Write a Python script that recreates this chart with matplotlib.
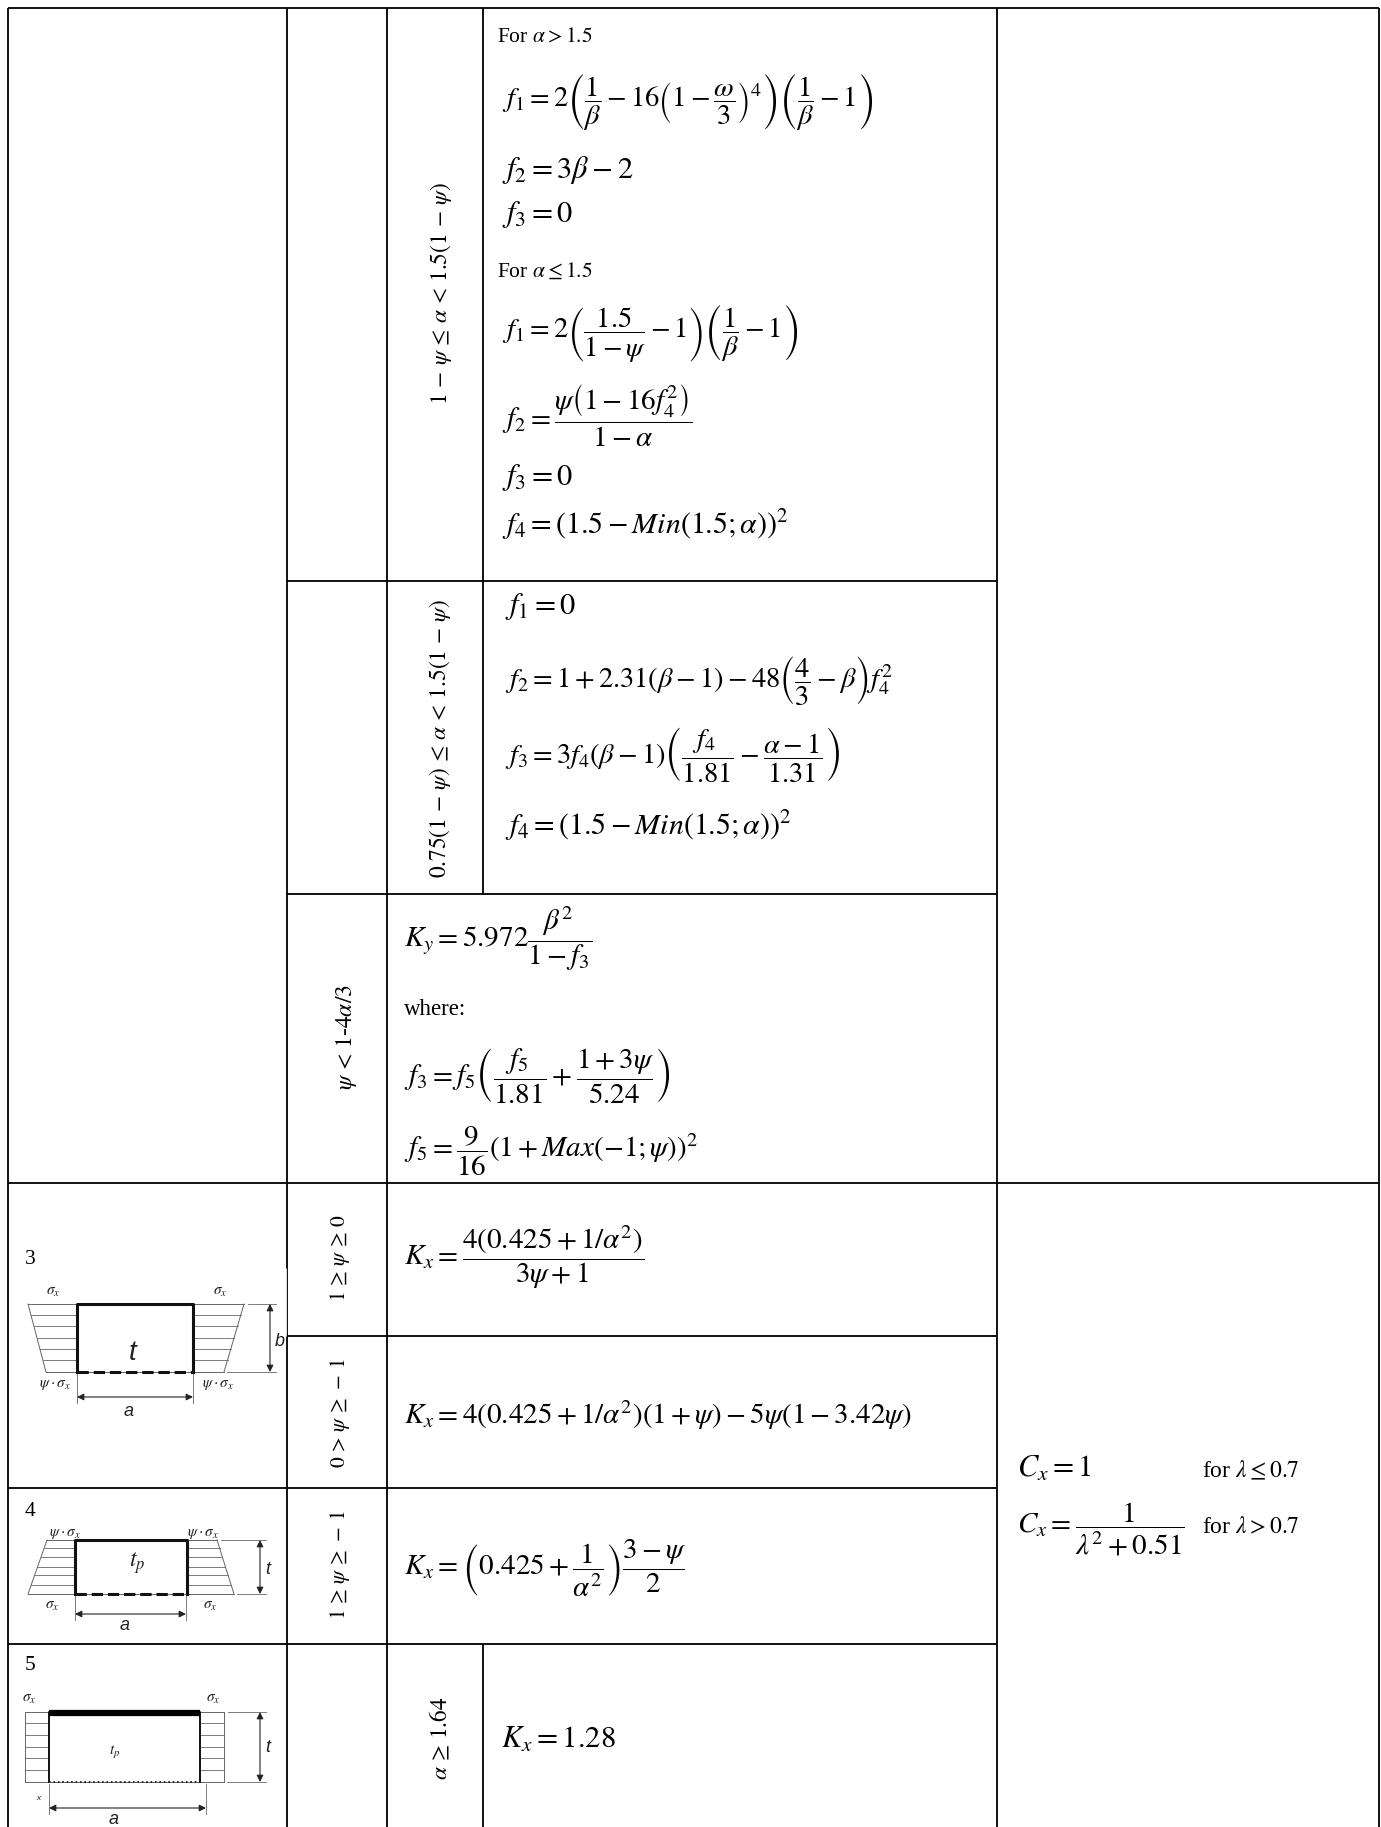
import matplotlib
matplotlib.use('Agg')
import matplotlib.pyplot as plt

plt.rcParams['font.family'] = ['Liberation Serif', 'DejaVu Sans']
plt.rcParams['mathtext.fontset'] = 'stix'

# cell texts
plain_labels = ['For $\\alpha > 1.5$', 'For $\\alpha \\leq 1.5$', 'where:',
                'for $\\lambda \\leq 0.7$', 'for $\\lambda > 0.7$', '3', '4', '5']
rotated_labels = ['$1\\,-\\,\\psi\\,\\leq\\,\\alpha\\,<\\,1.5(1\\,-\\,\\psi)$',
                  '$0.75(1\\,-\\,\\psi)\\,\\leq\\,\\alpha\\,<\\,1.5(1\\,-\\,\\psi)$',
                  '$\\psi\\,<\\,1$-$4\\alpha/3$',
                  '$1\\,\\geq\\,\\psi\\,\\geq\\,0$',
                  '$0\\,>\\,\\psi\\,\\geq\\,-\\,1$',
                  '$1\\,\\geq\\,\\psi\\,\\geq\\,-\\,1$',
                  '$\\alpha\\,\\geq\\,1.64$']
formulas = [
    r'$f_1=2\left(\dfrac{1}{\beta}-16\left(1-\dfrac{\omega}{3}\right)^{4}\right)\left(\dfrac{1}{\beta}-1\right)$',
    r'$f_2=3\beta-2$',
    r'$f_3=0$',
    r'$f_1=2\left(\dfrac{1.5}{1-\psi}-1\right)\left(\dfrac{1}{\beta}-1\right)$',
    r'$f_2=\dfrac{\psi\left(1-16f_4^2\right)}{1-\alpha}$',
    r'$f_3=0$',
    r'$f_4=\left(1.5-\mathit{Min}\left(1.5;\alpha\right)\right)^2$',
    r'$f_1=0$',
    r'$f_2=1+2.31(\beta-1)-48\left(\dfrac{4}{3}-\beta\right)f_4^2$',
    r'$f_3=3f_4(\beta-1)\left(\dfrac{f_4}{1.81}-\dfrac{\alpha-1}{1.31}\right)$',
    r'$f_4=\left(1.5-\mathit{Min}\left(1.5;\alpha\right)\right)^2$',
    r'$K_y=5.972\dfrac{\beta^2}{1-f_3}$',
    r'$f_3=f_5\left(\dfrac{f_5}{1.81}+\dfrac{1+3\psi}{5.24}\right)$',
    r'$f_5=\dfrac{9}{16}\left(1+\mathit{Max}\left(-1;\psi\right)\right)^2$',
    r'$K_x=\dfrac{4\left(0.425+1/\alpha^2\right)}{3\psi+1}$',
    r'$K_x=4\left(0.425+1/\alpha^2\right)\left(1+\psi\right)-5\psi\left(1-3.42\psi\right)$',
    r'$K_x=\left(0.425+\dfrac{1}{\alpha^2}\right)\dfrac{3-\psi}{2}$',
    r'$K_x=1.28$',
    r'$C_x=1$',
    r'$C_x=\dfrac{1}{\lambda^2+0.51}$',
]

# table layout, in pixels of the page
W, H = 1381, 1827
plain_pos = [(497, 42), (497, 277), (404, 1015), (1202, 1477), (1202, 1533),
             (25, 1264), (25, 1516), (25, 1670)]
plain_size = [15.5, 15.5, 16.5, 17, 17, 15.5, 15.5, 15.5]
rotated_pos = [(441, 294), (440, 738), (347, 1037), (340, 1258), (340, 1413),
               (340, 1565), (440, 1738)]
rotated_size = [16.8, 16.8, 17, 15.5, 15.5, 15.5, 16.8]
formula_pos = [(502, 107), (502, 178), (502, 222), (502, 338), (502, 428),
               (502, 485), (502, 534), (505, 614), (505, 688), (505, 764),
               (505, 835), (404, 946), (404, 1085), (404, 1157), (404, 1264),
               (404, 1424), (404, 1575), (501, 1748), (1017, 1477), (1017, 1532)]
formula_size = [20.5, 22, 22, 20.5, 21, 22, 21.5, 22, 20.5, 20.5,
                21.5, 21, 21, 21, 21, 21, 21, 22, 22, 21]
h_rules = [(8, 1379, 8), (287, 997, 581), (287, 997, 894), (8, 1379, 1183),
           (287, 997, 1336), (8, 997, 1488), (8, 997, 1644)]
v_rules = [(8, 8, 1827), (287, 8, 1827), (387, 8, 1827), (483, 8, 894),
           (483, 1644, 1827), (997, 8, 1827), (1379, 8, 1827)]

fig = plt.figure(figsize=(W / 100, H / 100), dpi=100)
ax = fig.add_axes([0, 0, 1, 1])
ax.set_xlim(0, W)
ax.set_ylim(H, 0)
ax.axis('off')

for x1, x2, y in h_rules:
    ax.plot([x1, x2], [y, y], color='black', lw=1.3, solid_capstyle='butt')
for x, y1, y2 in v_rules:
    ax.plot([x, x], [y1, y2], color='black', lw=1.3, solid_capstyle='butt')
# picture of plate 3 covers part of the rule
ax.plot([286.3, 286.3], [1268, 1336], color='white', lw=0.6, solid_capstyle='butt')

for s, (x, y), fs in zip(plain_labels, plain_pos, plain_size):
    ax.text(x, y, s, fontsize=fs, ha='left', va='baseline')
for s, (x, y), fs in zip(rotated_labels, rotated_pos, rotated_size):
    ax.text(x, y, s, fontsize=fs, rotation=90, ha='center', va='center')
for s, (x, y), fs in zip(formulas, formula_pos, formula_size):
    ax.text(x, y, s, fontsize=fs, ha='left', va='baseline')


def sans(x, y, s, size=11, **kw):
    ax.text(x, y, s, fontsize=size, family='Liberation Sans', style='italic',
            color='#222222', ha='center', va='center', **kw)


def math_label(x, y, s, size=11):
    ax.text(x, y, s, fontsize=size, color='#222222', ha='center', va='center')


def plate(rect, top, bottom, hatch_y, dim_x, span_y, span_x2, bold=2.2, lower='--'):
    x1, x2, y1, y2 = rect
    grey = '#666666'
    # loaded trapezoids both sides
    ax.plot([top[0], top[1]], [y1, y1], color=grey, lw=0.7)
    ax.plot([bottom[0], bottom[1]], [y2, y2], color=grey, lw=0.7)
    ax.plot([top[0], bottom[0]], [y1, y2], color=grey, lw=0.7)
    ax.plot([top[1], bottom[1]], [y1, y2], color=grey, lw=0.7)
    for yy in hatch_y:
        f = (yy - y1) / (y2 - y1)
        ax.plot([top[0] + f * (bottom[0] - top[0]), x1], [yy, yy], color=grey, lw=0.6)
        ax.plot([x2, top[1] + f * (bottom[1] - top[1])], [yy, yy], color=grey, lw=0.6)
    # plate outline
    ax.plot([x1, x1, x2, x2], [y2, y1, y1, y2], color='#111111', lw=bold)
    ax.plot([x1, x2], [y2, y2], color='#111111', lw=bold if lower == '--' else 1.2,
            ls=lower)
    # dimension lines
    ax.plot([top[1] + 4, dim_x + 6], [y1, y1], color=grey, lw=0.6)
    ax.plot([bottom[1] + 3, dim_x + 6], [y2, y2], color=grey, lw=0.6)
    ax.annotate('', xy=(dim_x, y1), xytext=(dim_x, y2),
                arrowprops=dict(arrowstyle='<|-|>', color='#222222', lw=0.8, shrinkA=0, shrinkB=0))
    ax.plot([x1, x1], [y2 + 2, span_y + 6], color=grey, lw=0.6)
    ax.plot([span_x2, span_x2], [y2 + 2, span_y + 6], color=grey, lw=0.6)
    ax.annotate('', xy=(x1, span_y), xytext=(span_x2, span_y),
                arrowprops=dict(arrowstyle='<|-|>', color='#222222', lw=0.8, shrinkA=0, shrinkB=0))


sigma = r'$\sigma_x$'
psi_sigma = r'$\psi\cdot\sigma_x$'

# plate 3
plate((77, 193, 1304, 1372), (28, 244), (46, 224), [1315, 1326, 1338, 1349, 1360], 270, 1397, 193)
sans(133, 1353, 't', 20)
sans(129, 1411, 'a', 13)
sans(280, 1342, 'b', 13)
math_label(53, 1292, sigma)
math_label(220, 1292, sigma)
math_label(55, 1385, psi_sigma)
math_label(218, 1385, psi_sigma)

# plate 4
plate((75, 187, 1540, 1594), (47, 217), (28, 234), [1548, 1557, 1567, 1575, 1585], 260, 1614, 186)
sans(137, 1563, '$t_p$', 17)
sans(125, 1626, 'a', 13)
sans(268, 1570, 't', 13)
math_label(65, 1534, psi_sigma)
math_label(203, 1534, psi_sigma)
math_label(52, 1606, sigma)
math_label(210, 1606, sigma)

# plate 5
plate((49, 200, 1712, 1782), (25, 224), (25, 224), [1723, 1735, 1747, 1758, 1770], 260, 1808, 206,
      bold=1.4, lower=':')
ax.plot([49, 200], [1712.5, 1712.5], color='black', lw=4.5, solid_capstyle='butt')
sans(115, 1752, '$t_p$', 11)
sans(114, 1820, 'a', 13)
sans(268, 1747, 't', 13)
math_label(29, 1699, sigma)
math_label(213, 1699, sigma)
sans(38, 1798, 'x', 6)

fig.savefig('out.png', dpi=100, facecolor='white')
